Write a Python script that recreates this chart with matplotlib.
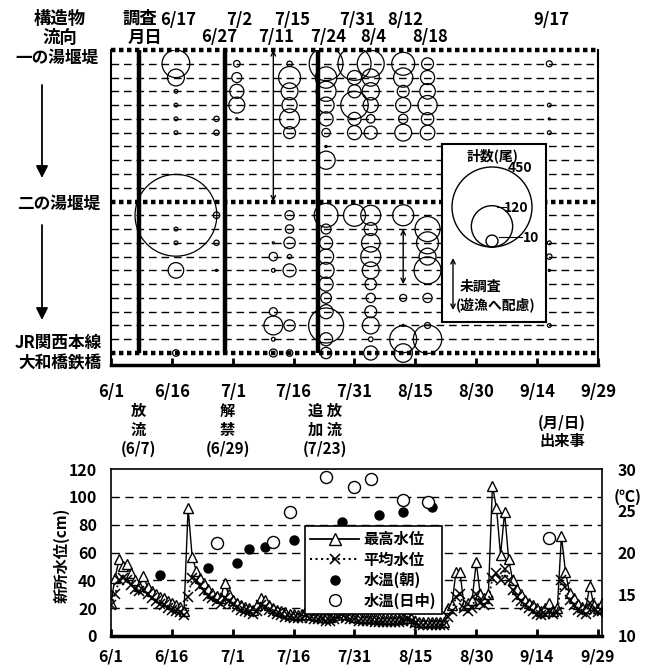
import datetime as dt
import numpy as np
import matplotlib
matplotlib.use("Agg")
import matplotlib.pyplot as plt
from matplotlib.lines import Line2D
from matplotlib.patches import Circle

plt.rcParams['font.family'] = ['Noto Sans CJK JP', 'DejaVu Sans']
plt.rcParams['font.weight'] = 'bold'

W, H, DPI = 653, 670, 100

# ---- data -----------------------------------------------------------
tick_labels = ["6/1", "6/16", "7/1", "7/16", "7/31", "8/15", "8/30", "9/14", "9/29"]
survey_dates = ["6/17", "6/27", "7/2", "7/11", "7/15", "7/24", "7/31", "8/4", "8/12", "8/18", "9/17"]

# fish counts per row (row 0 = 一の湯堰堤, 11 = 二の湯堰堤, 22 = JR大和橋鉄橋)
c_0617 = [0, 54, 20, 1, 1, 1, 1, 0, 0, 0, 0, 0, 470, 1, 1, 0, 17, 0, 0, 0, 0, 0, 3]
c_0627 = [0, 0, 0, 0, 0, 2, 2, 0, 0, 0, 0, 0, 3, 0, 2, 0, 0.3, 0, 0, 0, 0, 0, 0]
c_0702 = [0, 3, 7, 14, 18, 0.3, 0, 0, 0, 0, 0, 0, 0, 0, 0, 0, 0, 0, 0, 0, 0, 0, 0]
c_0711 = [0, 0, 0, 0, 0, 0, 0, 0, 0, 0, 0, 0, 0, 0, 0.3, 5, 1, 0, 0, 4.5, 25, 1, 4.5]
c_0715 = [0, 2, 34, 20, 16, 28, 10, 0, 0, 0, 0, 0, 6, 5, 9, 1.3, 12, 0, 0, 0, 9, 0, 3]
c_0724 = [0, 80, 32, 28, 18, 14, 5, 0.3, 23, 0, 0, 0, 40, 7, 12, 16, 18, 14, 8, 14, 86, 12, 9]
c_0731 = [0, 77, 14, 12, 53, 12, 14, 0, 0, 0, 0, 0, 34, 0, 0, 0, 0, 0, 0, 0, 0, 0, 0]
c_0804 = [0, 51, 21, 21, 16, 5, 12, 0, 0, 0, 0, 0, 28, 12, 24, 28, 20, 9, 6, 10, 20, 1.5, 14]
c_0812 = [0, 37, 26, 10, 16, 6, 20, 0, 0, 0, 0, 0, 31, 0, 0, 0, 0, 0, 3.5, 0, 0.3, 51, 24]
c_0818 = [0, 10, 14, 17, 26, 11, 15, 0, 0, 0, 0, 0, 0, 44, 34, 20, 51, 0, 6, 0, 2.5, 57, 0]
c_0917 = [0, 2.5, 0, 0, 1, 0.3, 1, 0, 0, 0, 0, 0, 0, 0, 1, 2, 0.3, 0, 0, 0, 1, 0, 0]
counts = [c_0617, c_0627, c_0702, c_0711, c_0715, c_0724, c_0731, c_0804, c_0812, c_0818, c_0917]

structure_rows = [0, 11, 22]
structure_names = ["一の湯堰堤", "二の湯堰堤", "JR関西本線\n大和橋鉄橋"]
not_surveyed = [("7/11", 0, 11), ("8/12", 13, 17)]

event_dates = ["6/7", "6/29", "7/23"]
event_line_days = [6.9, 28.0, 51.0]
event_labels = ["放\n流\n(6/7)", "解\n禁\n(6/29)", "追 放\n加 流\n(7/23)"]

legend_counts = [450, 120, 10]

# daily water level at 新所 (cm), 6/1 .. 9/30
max_level = [24, 42, 55, 50, 52, 45, 40, 36, 43, 35,
             32, 30, 28, 27, 25, 24, 22, 21, 18, 92,
             57, 47, 42, 38, 34, 31, 29, 27, 38, 30,
             26, 24, 22, 21, 20, 19, 22, 27, 26, 22,
             20, 19, 18, 17, 16, 16, 15, 16, 19, 16,
             15, 15, 14, 14, 14, 15, 17, 21, 16, 15,
             14, 14, 13, 13, 13, 13, 13, 12, 12, 12,
             12, 12, 13, 15, 13, 11, 10, 10, 10, 10,
             10, 10, 10, 20, 22, 46, 46, 22, 24, 26,
             53, 30, 27, 30, 108, 92, 58, 89, 55, 40,
             34, 30, 26, 24, 22, 20, 18, 20, 24, 18,
             20, 72, 46, 31, 27, 23, 21, 20, 36, 22, 20, 24]
mean_level = [22, 30, 40, 42, 40, 37, 34, 32, 33, 30,
              27, 25, 23, 22, 20, 19, 18, 17, 15, 28,
              42, 40, 36, 32, 29, 27, 25, 23, 27, 25,
              23, 21, 19, 18, 17, 16, 18, 22, 21, 19,
              17, 16, 15, 14, 14, 13, 13, 13, 15, 13,
              12, 12, 12, 11, 11, 12, 14, 16, 13, 12,
              12, 11, 11, 11, 11, 10, 10, 10, 10, 10,
              10, 10, 11, 12, 11, 9, 8, 8, 8, 8,
              8, 8, 8, 14, 18, 28, 30, 20, 18, 20,
              30, 24, 22, 25, 42, 45, 40, 48, 40, 33,
              28, 25, 22, 20, 18, 16, 15, 16, 18, 16,
              17, 40, 35, 26, 22, 19, 17, 16, 24, 19, 17, 18]

morning_dates = ["6/13", "6/25", "7/2", "7/5", "7/9", "7/16", "7/28", "8/6", "8/12", "8/19"]
morning_temp = [17.3, 18.2, 18.7, 20.4, 20.7, 21.5, 23.7, 24.5, 24.9, 25.4]
daytime_dates = ["6/27", "7/11", "7/15", "7/24", "7/31", "8/4", "8/12", "8/18", "9/17"]
daytime_temp = [21.1, 21.3, 24.9, 29.0, 27.8, 28.8, 26.3, 26.1, 21.7]


# ---- helpers --------------------------------------------------------
def day(s):
    m, d = map(int, s.split('/'))
    return (dt.date(2000, m, d) - dt.date(2000, 6, 1)).days


def box(l, t, r, b):
    return [l / W, 1 - b / H, (r - l) / W, (b - t) / H]


def ftext(x, y, s, **kw):
    fig.text(x / W, 1 - y / H, s, **kw)


def radius_px(n):
    return 40 * np.sqrt(n / 450)


def msize(n):
    return (2 * radius_px(np.asarray(n)) * 72 / DPI) ** 2


tick_days = [day(t) for t in tick_labels]

fig = plt.figure(figsize=(W / DPI, H / DPI), dpi=DPI)

# ---- top panel: fish distribution -----------------------------------
ax = fig.add_axes(box(111, 50, 598, 365))
ax.set_xlim(0, 120)
ax.set_ylim(22.87, 0)

for r in range(23):
    if r in structure_rows:
        ax.axhline(r, color='k', lw=3.2, ls=(0, (1, 0.8)), zorder=3, clip_on=False)
    else:
        ax.axhline(r, color='k', lw=1, ls=(0, (5.5, 3.5)), zorder=1)

ax.vlines(event_line_days, 0, 22, color='k', lw=3.2, zorder=4)

for date, col in zip(survey_dates, counts):
    rows = [i for i, v in enumerate(col) if v > 0]
    vals = [col[i] for i in rows]
    ax.scatter([day(date)] * len(rows), rows, s=msize(vals), facecolors='none',
               edgecolors='k', linewidths=0.9, zorder=5)

for date, r0, r1 in not_surveyed:
    ax.annotate('', xy=(day(date), r0), xytext=(day(date), r1),
                arrowprops=dict(arrowstyle='<->', lw=1, color='k', shrinkA=0, shrinkB=0,
                                mutation_scale=8), zorder=6)

ax.spines['top'].set_visible(False)
ax.spines['left'].set_linewidth(1.5)
ax.spines['right'].set_linewidth(1.5)
ax.spines['bottom'].set_linewidth(2.5)
ax.set_yticks([])
ax.set_xticks(tick_days)
ax.set_xticklabels(tick_labels, fontsize=12, fontweight='bold')
ax.tick_params(axis='x', direction='in', length=5, width=2, pad=13)

# survey date labels above
for i, date in enumerate(survey_dates):
    ypix = H - (20 if i % 2 == 0 else 37)
    ax.annotate(date, xy=(day(date) + 0.6, ypix), xycoords=('data', 'figure pixels'),
                ha='center', va='center', fontsize=12, fontweight='bold',
                annotation_clip=False)

# event labels below
for date, lab in zip(event_dates, event_labels):
    ax.annotate(lab, xy=(day(date) + 0.7, H - 430), xycoords=('data', 'figure pixels'),
                ha='center', va='center', fontsize=11, fontweight='bold',
                linespacing=1.2, annotation_clip=False)
ftext(562, 432, "(月/日)\n出来事", ha='center', va='center', fontsize=11,
      fontweight='bold', linespacing=1.15)

# headers and structure labels
ftext(60, 19, "構造物", ha='center', va='center', fontsize=12.5, fontweight='bold')
ftext(60, 38, "流向", ha='center', va='center', fontsize=12.5, fontweight='bold')
ftext(140, 19, "調査", ha='center', va='center', fontsize=12.5, fontweight='bold')
ftext(145, 38, "月日", ha='center', va='center', fontsize=12.5, fontweight='bold')
ftext(98, 58, structure_names[0], ha='right', va='center', fontsize=12, fontweight='bold')
ftext(100, 204, structure_names[1], ha='right', va='center', fontsize=12, fontweight='bold')
ftext(102, 353, structure_names[2], ha='right', va='center', fontsize=12,
      fontweight='bold', linespacing=1.15)
for y0, y1 in [(85, 178), (225, 320)]:
    fig.add_artist(plt.Annotation('', xy=(42 / W, 1 - y1 / H), xytext=(42 / W, 1 - y0 / H),
                                  xycoords='figure fraction',
                                  arrowprops=dict(arrowstyle='-|>', lw=1.3, color='k',
                                                  mutation_scale=18, shrinkA=0, shrinkB=0)))

# count key
lg = fig.add_axes(box(442, 144, 546, 322))
lg.set_xlim(0, 104)
lg.set_ylim(178, 0)
lg.set_xticks([])
lg.set_yticks([])
for s in lg.spines.values():
    s.set_linewidth(1.5)
for n in legend_counts:
    r = radius_px(n)
    lg.add_patch(Circle((50, 103 - r), r, fill=False, lw=1, color='k'))
lg.text(51, 12, "計数(尾)", ha='center', va='center', fontsize=10, fontweight='bold')
lg.text(78, 24, str(legend_counts[0]), ha='center', va='center', fontsize=10)
lg.plot([55, 64], [63, 63], color='k', lw=0.8)
lg.text(74, 64, str(legend_counts[1]), ha='center', va='center', fontsize=10)
lg.plot([57, 80], [93, 93], color='k', lw=0.8)
lg.text(89, 94, str(legend_counts[2]), ha='center', va='center', fontsize=10)
lg.annotate('', xy=(11, 114), xytext=(11, 166),
            arrowprops=dict(arrowstyle='<->', lw=1, color='k', shrinkA=0, shrinkB=0,
                            mutation_scale=8))
lg.text(18, 143, "未調査", ha='left', va='center', fontsize=10, fontweight='bold')
lg.text(14, 161, "(遊漁へ配慮)", ha='left', va='center', fontsize=10, fontweight='bold')

# ---- bottom panel: water level and temperature ----------------------
bx = fig.add_axes(box(111, 469, 602, 636))
days = np.arange(len(max_level))
bx.set_xlim(0, 121)
bx.set_ylim(0, 120)
for v in [20, 40, 60, 80, 100]:
    bx.axhline(v, color='k', lw=1, ls=(0, (6, 4)), zorder=0)
bx.plot(days, max_level, '-', color='k', lw=1, marker='^', ms=7.5, mfc='white',
        mec='k', mew=1, zorder=2)
bx.plot(days, mean_level, ':', color='k', lw=1.3, marker='x', ms=6.5, mew=1.1, zorder=3)
bx.set_xticks(tick_days)
bx.set_xticklabels(tick_labels, fontsize=11.5, fontweight='bold')
bx.tick_params(axis='x', direction='in', length=5, width=2, pad=9)
bx.set_yticks([0, 20, 40, 60, 80, 100, 120])
bx.set_yticklabels([0, 20, 40, 60, 80, 100, 120], fontsize=11.5, fontweight='bold')
bx.tick_params(axis='y', length=0, pad=10)
for s in bx.spines.values():
    s.set_linewidth(1.2)
bx.spines['bottom'].set_linewidth(2.5)

tx = bx.twinx()
tx.set_ylim(10, 30)
tx.scatter([day(d) for d in morning_dates], morning_temp, s=42, color='k', zorder=4)
tx.scatter([day(d) for d in daytime_dates], daytime_temp, s=75, facecolors='white',
           edgecolors='k', linewidths=1, zorder=4)
tx.set_yticks([10, 15, 20, 25, 30])
tx.set_yticklabels([10, 15, 20, 25, 30], fontsize=11.5, fontweight='bold')
tx.tick_params(axis='y', length=0, pad=11)
for s in tx.spines.values():
    s.set_visible(False)

handles = [Line2D([], [], color='k', lw=1.3, marker='^', ms=8, mfc='white', mec='k'),
           Line2D([], [], color='k', lw=1.5, ls=':', marker='x', ms=7, mew=1.2),
           Line2D([], [], ls='none', marker='o', ms=6.5, color='k'),
           Line2D([], [], ls='none', marker='o', ms=8.5, mfc='white', mec='k')]
labels = ["最高水位", "平均水位", "水温(朝)", "水温(日中)"]
leg = tx.legend(handles, labels, loc='upper left', bbox_to_anchor=(0.395, 0.659),
                fontsize=11, frameon=True, fancybox=False, borderaxespad=0,
                handlelength=3.2, labelspacing=0.28, borderpad=0.35, handletextpad=0.3,
                framealpha=1)
leg.get_frame().set_edgecolor('k')
leg.get_frame().set_linewidth(1.2)
for t in leg.get_texts():
    t.set_fontweight('bold')

ftext(628, 497, "(℃)", ha='center', va='center', fontsize=11.5, fontweight='bold')
ftext(62, 555, "新所水位(cm)", ha='center', va='center', fontsize=11,
      fontweight='bold', rotation=90)

fig.savefig("out.png", dpi=DPI)
